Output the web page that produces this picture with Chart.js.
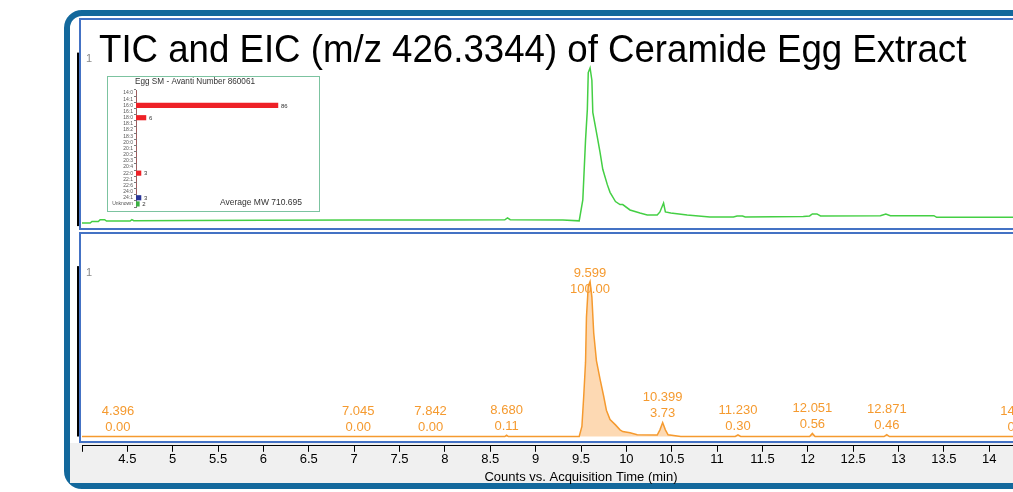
<!DOCTYPE html>
<html>
<head>
<meta charset="utf-8">
<script src="https://cdn.jsdelivr.net/npm/chart.js@4.4.0/dist/chart.umd.min.js"></script>
<style>
html, body { margin: 0; padding: 0; overflow: hidden; background: #fff; width: 1013px; height: 492px; }
.abs { position: absolute; box-sizing: border-box; }
#frame { left: 64px; top: 10px; width: 1200px; height: 479px; border: 6px solid #13689c; border-radius: 18px; background: #fff; }
#band { left: 70px; top: 443px; width: 1200px; height: 40px; background: #f0f0f0; }
#panel1 { left: 79px; top: 18px; width: 1200px; height: 212px; border: 2px solid #4472c4; }
#panel2 { left: 79px; top: 232px; width: 1200px; height: 211px; border: 2px solid #4472c4; }
#title { left: 99px; top: 29px; font-family: "Liberation Sans", Arial, sans-serif; font-size: 39px; line-height: 39px; color: #000; white-space: nowrap; transform-origin: 0 0; }
#insetBox { left: 107px; top: 76px; width: 213px; height: 136px; border: 1px solid #7cc3a0; background: #fff; }
</style>
</head>
<body>
<div id="frame" class="abs"></div>
<div id="band" class="abs"></div>
<div id="panel1" class="abs"></div>
<div id="panel2" class="abs"></div>
<canvas id="tic" class="abs" width="1090" height="231" style="left:0;top:0"></canvas>
<canvas id="eic" class="abs" width="1090" height="260" style="left:0;top:232px"></canvas>
<div id="insetBox" class="abs"><canvas id="inset" width="211" height="134"></canvas></div>
<div id="title" class="abs">TIC and EIC (m/z 426.3344) of Ceramide Egg Extract</div>
<script>
// TIC trace (relative %)
var ticTimes = [4.00, 4.09, 4.11, 4.18, 4.20, 4.25, 4.27, 4.53, 4.55, 4.57, 5.20, 6.00, 7.00, 8.00, 8.66, 8.69, 8.72, 9.30, 9.48,
    9.52, 9.55, 9.57, 9.58, 9.60, 9.62, 9.63, 9.68, 9.71, 9.74, 9.79, 9.82, 9.88, 9.93, 9.96, 10.04, 10.15, 10.23, 10.34,
    10.37, 10.41, 10.43, 10.49, 10.67, 10.92, 11.18, 11.22, 11.28, 11.31, 11.95, 12.02, 12.05, 12.10, 12.14, 12.80, 12.86,
    12.91, 13.39, 13.42, 15.00];
var ticValues = [-1.0, -1.0, 0.0, 0.0, 1.2, 1.2, 0.3, 0.3, 1.2, 0.5, 0.6, 0.8, 0.9, 1.0, 1.1, 2.3, 1.2, 1.0, 0.4,
    14, 53, 73, 97, 100, 92, 71, 55, 45, 34, 24, 19, 13, 11, 11, 7.5, 5.5, 4.2, 4.2,
    6.2, 12, 6.2, 5.5, 4.2, 2.9, 2.9, 3.6, 3.6, 2.9, 3.3, 3.6, 4.9, 4.9, 3.6, 3.8, 4.9,
    3.8, 3.8, 2.7, 2.7];

// EIC trace (relative %)
var eicTimes = [4.00, 8.66, 8.68, 8.70, 9.48, 9.51, 9.53, 9.55, 9.56, 9.58, 9.60, 9.62, 9.64, 9.67, 9.71, 9.75, 9.78, 9.82,
    9.88, 9.93, 9.96, 10.04, 10.12, 10.34, 10.37, 10.40, 10.43, 10.46, 10.60, 11.20, 11.23, 11.26, 12.02, 12.05, 12.08,
    12.84, 12.87, 12.90, 15.00];
var eicValues = [0, 0, 0.8, 0, 0, 6.5, 26, 48, 77, 97, 100, 90, 67, 49, 37, 26, 17, 11,
    7.5, 4.3, 3.2, 2.4, 1.1, 0.9, 4.3, 9, 4.3, 1.1, 0, 0, 1.0, 0, 0, 2.0, 0,
    0, 1.2, 0, 0];

// peak annotations
var peakTimes = [4.396, 7.045, 7.842, 8.680, 9.599, 10.399, 11.230, 12.051, 12.871, 14.339];
var peakAreas = [0.00, 0.00, 0.00, 0.11, 100.00, 3.73, 0.30, 0.56, 0.46, 0.00];

var xTicks = [4, 4.5, 5, 5.5, 6, 6.5, 7, 7.5, 8, 8.5, 9, 9.5, 10, 10.5, 11, 11.5, 12, 12.5, 13, 13.5, 14, 14.5, 15];

// inset: fatty acid distribution
var insetCategories = ['14:0', '14:1', '16:0', '16:1', '18:0', '18:1', '18:2', '18:3', '20:0', '20:1', '20:2', '20:3',
    '20:4', '22:0', '22:1', '22:6', '24:0', '24:1', 'Unknown'];
var insetValues = [0, 0, 86, 0, 6, 0, 0, 0, 0, 0, 0, 0, 0, 3, 0, 0, 0, 3, 2];
var insetColors = insetCategories.map(function (c) {
    return c === '24:1' ? '#2a3596' : c === 'Unknown' ? '#3cb043' : '#ee2127';
});

var sans = '"Liberation Sans", Arial, sans-serif';
var orange = '#f59a2f';

// squeeze the heading to the narrow width it has on the slide
var titleEl = document.getElementById('title');
titleEl.style.transform = 'scaleX(' + (867 / titleEl.offsetWidth) + ')';

function points(ts, vs) {
    return ts.map(function (t, i) { return { x: t, y: vs[i] }; });
}

// black y axis stub with the "1" label
var yAxisStub = {
    id: 'yAxisStub',
    afterDraw: function (chart, args, opts) {
        var ctx = chart.ctx, a = chart.chartArea, y = chart.scales.y;
        var top = y.getPixelForValue(110), bot = y.getPixelForValue(opts.end);
        ctx.save();
        ctx.fillStyle = '#000';
        ctx.fillRect(a.left - 5, top, 2, bot - top);
        ctx.fillStyle = '#8a8a8a';
        ctx.font = '11px ' + sans;
        ctx.textBaseline = 'top';
        ctx.fillText('1', a.left + 4, top + 1);
        ctx.restore();
    }
};

var ticChart = new Chart(document.getElementById('tic'), {
    type: 'line',
    data: {
        datasets: [{
            data: points(ticTimes, ticValues),
            borderColor: '#44cf44',
            borderWidth: 1.5,
            pointRadius: 0,
            tension: 0
        }]
    },
    options: {
        responsive: false,
        animation: false,
        layout: { padding: { left: 82, top: 19, right: 10, bottom: 2 } },
        plugins: { legend: { display: false }, tooltip: { enabled: false }, yAxisStub: { end: -3 } },
        scales: {
            x: { type: 'linear', min: 4, max: 15, display: false },
            y: { min: -4.9, max: 131.9, display: false }
        }
    },
    plugins: [yAxisStub]
});

var peakLabels = {
    id: 'peakLabels',
    afterDatasetsDraw: function (chart) {
        var ctx = chart.ctx, a = chart.chartArea, xs = chart.scales.x, ys = chart.scales.y;
        ctx.save();
        ctx.font = '13px ' + sans;
        ctx.fillStyle = orange;
        ctx.textAlign = 'center';
        ctx.textBaseline = 'middle';
        peakTimes.forEach(function (t, i) {
            var apex = 0;
            eicTimes.forEach(function (et, j) {
                if (Math.abs(et - t) < 0.06 && eicValues[j] > apex) apex = eicValues[j];
            });
            var px = xs.getPixelForValue(t);
            var yb = ys.getPixelForValue(apex) - 9;
            var yt = yb - 16;
            if (yt < a.top + 38) { yt = a.top + 38; yb = yt + 16; }
            ctx.fillText(t.toFixed(3), px, yt);
            ctx.fillText(peakAreas[i].toFixed(2), px, yb);
        });
        ctx.restore();
    }
};

var eicChart = new Chart(document.getElementById('eic'), {
    type: 'line',
    data: {
        datasets: [{
            data: points(eicTimes, eicValues),
            borderColor: orange,
            borderWidth: 1.5,
            backgroundColor: '#fdd9b3',
            fill: 'origin',
            pointRadius: 0,
            tension: 0
        }]
    },
    options: {
        responsive: false,
        animation: false,
        layout: { padding: { left: 82, top: 3, right: 10, bottom: 5 } },
        plugins: { legend: { display: false }, tooltip: { enabled: false }, yAxisStub: { end: 0 } },
        scales: {
            x: {
                type: 'linear', min: 4, max: 15,
                afterBuildTicks: function (axis) {
                    axis.ticks = xTicks.map(function (v) { return { value: v }; });
                },
                border: { display: true, color: '#000', width: 1 },
                grid: { display: true, drawOnChartArea: false, drawTicks: true, tickLength: 6, color: '#000' },
                ticks: {
                    color: '#000', font: { family: sans, size: 13 }, padding: 0,
                    maxRotation: 0, autoSkip: false,
                    callback: function (v) { return v === 4 ? '' : String(v); }
                },
                title: {
                    display: true, text: 'Counts vs. Acquisition Time (min)',
                    color: '#000', font: { family: sans, size: 13 }, padding: { top: 2, bottom: 2 }
                }
            },
            y: { min: -6, max: 130.1, display: false }
        }
    },
    plugins: [peakLabels, yAxisStub]
});

var insetText = {
    id: 'insetText',
    afterDraw: function (chart) {
        var ctx = chart.ctx, a = chart.chartArea, xs = chart.scales.x, ys = chart.scales.y;
        ctx.save();
        ctx.fillStyle = '#333';
        ctx.textBaseline = 'middle';
        ctx.font = '8.2px ' + sans;
        ctx.fillText('Egg SM - Avanti Number 860061', a.left - 1, 5);
        ctx.font = '6px ' + sans;
        insetValues.forEach(function (v, i) {
            if (v > 0) ctx.fillText(String(v), xs.getPixelForValue(v) + 3, ys.getPixelForValue(i) + 0.5);
        });
        ctx.font = '8.5px ' + sans;
        ctx.textAlign = 'right';
        ctx.fillText('Average MW 710.695', 194, 126);
        ctx.restore();
    }
};

var insetChart = new Chart(document.getElementById('inset'), {
    type: 'bar',
    data: {
        labels: insetCategories,
        datasets: [{
            data: insetValues,
            backgroundColor: insetColors,
            barThickness: 4.5
        }]
    },
    options: {
        indexAxis: 'y',
        responsive: false,
        animation: false,
        layout: { padding: { left: 4, top: 13, right: 18, bottom: 3 } },
        plugins: { legend: { display: false }, tooltip: { enabled: false } },
        scales: {
            x: { min: 0, max: 100, display: false },
            y: {
                afterFit: function (axis) { axis.width = 24; },
                border: { color: '#7a7a7a', width: 1 },
                grid: { drawOnChartArea: false, tickLength: 2, color: '#7a7a7a' },
                ticks: { color: '#555', font: { family: sans, size: 5 }, padding: 1, autoSkip: false }
            }
        }
    },
    plugins: [insetText]
});
</script>
</body>
</html>
